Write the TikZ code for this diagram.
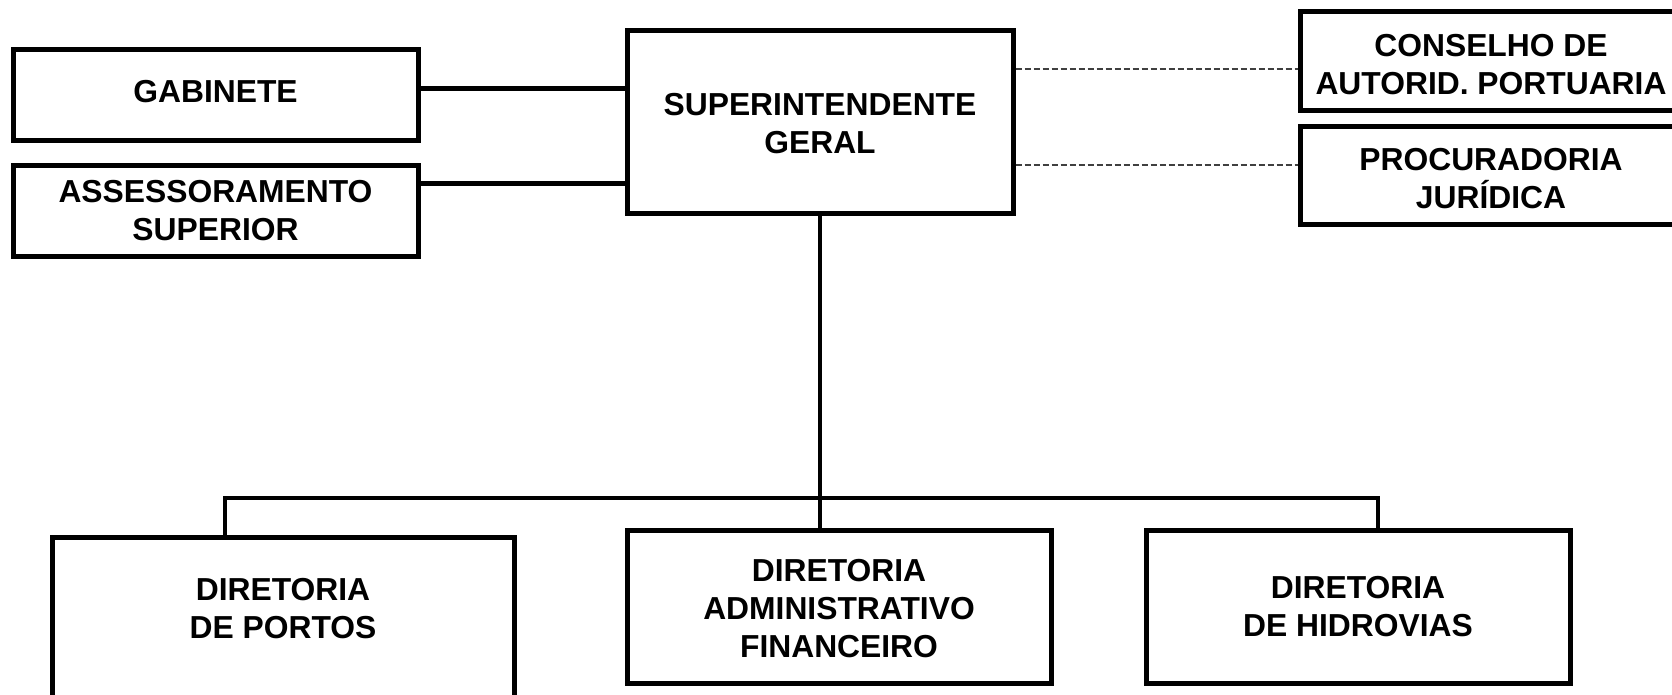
\documentclass[tikz,border=0pt]{standalone}
\usepackage{fontspec}
\setmainfont{Liberation Sans}
\begin{document}
\begin{tikzpicture}[x=1pt,y=-1pt,
  lbl/.style={align=center, inner sep=0pt, font=\fontsize{31.8}{38}\selectfont\bfseries},
  box/.style={draw, line width=5pt, inner sep=0pt},
  link/.style={line width=4.6pt},
  dashlink/.style={line width=1.2pt, draw=black!75, dash pattern=on 6pt off 3pt}]
\useasboundingbox (0,0) rectangle (1672,694);
\clip (0,0) rectangle (1672,694);
% top-left boxes
\node[box, minimum width=405, minimum height=91] (gab) at (215.5,94.5) {};
\node[lbl] (gabt) at ([yshift=3pt]gab.center) {GABINETE};
\node[box, minimum width=405, minimum height=91] (ass) at (215.5,210.5) {};
\node[lbl] (asst) at (ass.center) {ASSESSORAMENTO\\SUPERIOR};
% central
\node[box, minimum width=386, minimum height=183] (sup) at (820,121.5) {};
\node[lbl] (supt) at ([yshift=-2pt]sup.center) {SUPERINTENDENTE\\GERAL};
% right boxes
\node[box, minimum width=382, minimum height=99] (cons) at (1491,60.5) {};
\node[lbl] (const) at ([yshift=-4pt]cons.center) {CONSELHO DE\\AUTORID. PORTUARIA};
\node[box, minimum width=382, minimum height=98] (proc) at (1491,175) {};
\node[lbl] (proct) at ([yshift=-4pt]proc.center) {PROCURADORIA\\JURÍDICA};
% bottom boxes
\node[box, anchor=north, minimum width=462, minimum height=180] (portos) at (283,535) {};
\node[lbl] (portost) at ([yshift=-74pt]portos.north) {DIRETORIA\\DE PORTOS};
\node[box, minimum width=424, minimum height=153] (adm) at (839,606.5) {};
\node[lbl] (admt) at ([yshift=-2pt]adm.center) {DIRETORIA\\ADMINISTRATIVO\\FINANCEIRO};
\node[box, minimum width=424, minimum height=153] (hid) at (1358,606.5) {};
\node[lbl] (hidt) at (hid.center) {DIRETORIA\\DE HIDROVIAS};
% connectors left
\coordinate (g1) at ([yshift=6pt]gab.east);
\draw[link] (g1) -- (g1 -| sup.west);
\coordinate (a1) at ([yshift=27pt]ass.east);
\draw[link] (a1) -- (a1 -| sup.west);
% dashed right
\coordinate (c1) at ([yshift=-8.5pt]cons.west);
\draw[dashlink] (c1 -| sup.east) -- (c1);
\coordinate (p1) at ([yshift=10pt]proc.west);
\draw[dashlink] (p1 -| sup.east) -- (p1);
% vertical trunk and bus
\coordinate (busL) at ([xshift=-58pt,yshift=37pt]portos.north);
\coordinate (busR) at ([xshift=20pt]hid.north |- busL);
\draw[link] (sup.south) -- (sup.south |- adm.north);
\draw[link] (busL |- portos.north) -- (busL) -- (busR) -- (busR |- hid.north);
\end{tikzpicture}
\end{document}
